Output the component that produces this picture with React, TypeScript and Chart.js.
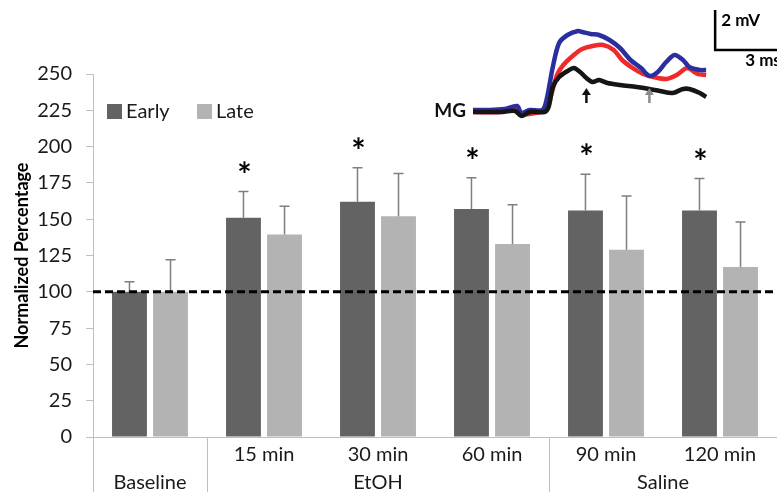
import React, { useEffect, useRef } from "react";
import { Chart, registerables } from "chart.js";
Chart.register(...registerables);

const FONT = "Lato";

// ---- main bar chart data ----
const categories = ["Baseline", "15 min", "30 min", "60 min", "90 min", "120 min"];
const groupNames = ["Baseline", "EtOH", "Saline"];
const groupStarts = [0, 1, 4];
const groupEnds = [0, 3, 5];
const seriesLabels = ["Early", "Late"];
const earlyMean = [100, 151, 162, 157, 156, 156];
const earlyErr = [7, 18, 23.5, 21.5, 25, 22];
const lateMean = [100, 139.5, 152, 133, 129, 117];
const lateErr = [22, 19.5, 29.5, 27, 37, 31];
const earlySignificant = [false, true, true, true, true, true];
const yMin = 0;
const yMax = 250;
const yStep = 25;
const referenceLevel = 100;

// ---- inset traces (time in ms, amplitude in mV) ----
const blueT = [0, 0.8, 1.5, 2.1, 2.3, 2.7, 3.3, 3.5, 3.8, 4.1, 4.5, 5.0, 5.2, 5.6, 6.0, 6.5, 7.0, 7.5, 8.0, 8.4, 8.8, 9.2, 9.6, 10.0, 10.3, 10.8, 11.1];
const blueV = [0.1, 0.1, 0.15, 0.3, -0.05, 0.1, 0.1, 0.6, 2.25, 3.45, 3.85, 4.05, 4.0, 3.9, 3.85, 3.6, 3.2, 2.6, 2.2, 1.8, 2.0, 2.5, 2.85, 2.6, 2.25, 2.1, 2.1];
const redT = [0, 1.3, 2.1, 2.3, 3.2, 3.5, 3.7, 4.0, 4.3, 4.8, 5.2, 5.7, 6.2, 6.7, 7.1, 7.6, 8.1, 8.6, 9.2, 9.7, 10.2, 10.7, 11.1];
const redV = [0, 0, 0.2, -0.1, 0, 0.1, 0.75, 1.85, 2.35, 2.85, 3.15, 3.3, 3.35, 3.1, 2.6, 2.2, 1.9, 1.75, 1.65, 1.85, 2.2, 1.9, 1.85];
const blackT = [0, 1.3, 2.0, 2.3, 2.7, 3.4, 3.6, 3.8, 4.1, 4.5, 4.8, 5.1, 5.4, 5.7, 6.0, 6.4, 7.0, 7.8, 8.4, 8.9, 9.5, 10.0, 10.3, 10.8, 11.1];
const blackV = [0, 0, 0.05, -0.2, 0, 0, 0.25, 1.25, 1.75, 2.05, 2.2, 2.0, 1.7, 1.5, 1.6, 1.45, 1.35, 1.25, 1.15, 1.05, 0.95, 1.15, 1.15, 0.95, 0.75];
const arrowTimes = [5.4, 8.4];
const arrowColors = ["#111111", "#8a8a8a"];
const scaleBarMs = 3;
const scaleBarMv = 2;
const insetLabel = "MG";

const DARK = "#636363";
const LIGHT = "#b3b3b3";
const AXIS = "#bfbfbf";

function pts(t: number[], v: number[]) {
  return t.map((x, i) => ({ x, y: v[i] }));
}

const mainPlugin = {
  id: "mainExtras",
  afterDatasetsDraw(chart: any) {
    const { ctx, scales, chartArea } = chart;
    const y = scales.y;
    const errs = [earlyErr, lateErr];
    const means = [earlyMean, lateMean];
    ctx.save();
    // error bars
    ctx.strokeStyle = "#7f7f7f";
    ctx.lineWidth = 1.5;
    for (let d = 0; d < 2; d++) {
      const meta = chart.getDatasetMeta(d);
      meta.data.forEach((el: any, i: number) => {
        const top = y.getPixelForValue(means[d][i] + errs[d][i]);
        const base = y.getPixelForValue(means[d][i]);
        ctx.beginPath();
        ctx.moveTo(el.x, base);
        ctx.lineTo(el.x, top);
        ctx.moveTo(el.x - 5, top);
        ctx.lineTo(el.x + 5, top);
        ctx.stroke();
      });
    }
    // dashed reference line
    const ry = y.getPixelForValue(referenceLevel);
    ctx.strokeStyle = "#000";
    ctx.lineWidth = 3;
    ctx.setLineDash([8, 4]);
    ctx.beginPath();
    ctx.moveTo(chartArea.left, ry);
    ctx.lineTo(chartArea.right, ry);
    ctx.stroke();
    ctx.setLineDash([]);
    // asterisks
    ctx.fillStyle = "#000";
    ctx.font = `bold 34px ${FONT}`;
    ctx.textAlign = "center";
    ctx.textBaseline = "middle";
    const meta0 = chart.getDatasetMeta(0);
    meta0.data.forEach((el: any, i: number) => {
      if (!earlySignificant[i]) return;
      const top = y.getPixelForValue(earlyMean[i] + earlyErr[i]);
      ctx.fillText("*", el.x + 1, top - 16);
    });
    ctx.restore();
  },
  afterDraw(chart: any) {
    const { ctx, scales, chartArea } = chart;
    const x = scales.x;
    const half = (x.getPixelForValue(1) - x.getPixelForValue(0)) / 2;
    ctx.save();
    // separators below axis
    ctx.strokeStyle = AXIS;
    ctx.lineWidth = 1;
    const sepXs = [chartArea.left];
    for (let g = 0; g < groupEnds.length - 1; g++) sepXs.push(x.getPixelForValue(groupEnds[g]) + half);
    sepXs.forEach((sx) => {
      const px = Math.round(sx) + 0.5;
      ctx.beginPath();
      ctx.moveTo(px, chartArea.bottom);
      ctx.lineTo(px, chart.height);
      ctx.stroke();
    });
    // category labels (row 1) and group labels (row 2)
    ctx.fillStyle = "#1a1a1a";
    ctx.font = `20px ${FONT}`;
    ctx.textAlign = "center";
    ctx.textBaseline = "middle";
    for (let g = 0; g < groupNames.length; g++) {
      const s = groupStarts[g], e = groupEnds[g];
      if (e > s) {
        for (let i = s; i <= e; i++) ctx.fillText(categories[i], x.getPixelForValue(i), chartArea.bottom + 18);
      }
      const cx = (x.getPixelForValue(s) + x.getPixelForValue(e)) / 2;
      ctx.fillText(groupNames[g], cx, chartArea.bottom + 46);
    }
    // legend
    const colors = [DARK, LIGHT];
    const lx = [107, 197];
    ctx.textAlign = "left";
    for (let k = 0; k < 2; k++) {
      ctx.fillStyle = colors[k];
      ctx.fillRect(lx[k], 104, 15, 15);
      ctx.fillStyle = "#1a1a1a";
      ctx.fillText(seriesLabels[k], lx[k] + 19, 112);
    }
    ctx.restore();
  },
};

const insetPlugin = {
  id: "insetExtras",
  afterDraw(chart: any) {
    const { ctx, scales } = chart;
    const x = scales.x, y = scales.y;
    ctx.save();
    // label
    ctx.fillStyle = "#111";
    ctx.font = `bold 19px ${FONT}`;
    ctx.textAlign = "right";
    ctx.textBaseline = "middle";
    ctx.fillText(insetLabel, x.getPixelForValue(0) - 7, y.getPixelForValue(0) - 1);
    // arrows
    arrowTimes.forEach((t, k) => {
      const ax = x.getPixelForValue(t);
      const yb = y.getPixelForValue(0.45);
      const yt = y.getPixelForValue(1.2);
      ctx.strokeStyle = arrowColors[k];
      ctx.fillStyle = arrowColors[k];
      ctx.lineWidth = 2.5;
      ctx.beginPath();
      ctx.moveTo(ax, yb);
      ctx.lineTo(ax, yt + 5);
      ctx.stroke();
      ctx.beginPath();
      ctx.moveTo(ax, yt);
      ctx.lineTo(ax - 4.5, yt + 7);
      ctx.lineTo(ax + 4.5, yt + 7);
      ctx.closePath();
      ctx.fill();
    });
    // scale bar
    const bx = x.getPixelForValue(11.53);
    const by = y.getPixelForValue(3.1);
    const btop = y.getPixelForValue(3.1 + scaleBarMv);
    const bright = x.getPixelForValue(11.53 + scaleBarMs);
    ctx.strokeStyle = "#000";
    ctx.lineWidth = 2.5;
    ctx.beginPath();
    ctx.moveTo(bx, btop);
    ctx.lineTo(bx, by);
    ctx.lineTo(bright, by);
    ctx.stroke();
    ctx.fillStyle = "#000";
    ctx.font = `bold 17px ${FONT}`;
    ctx.textAlign = "left";
    ctx.textBaseline = "middle";
    ctx.fillText(`${scaleBarMv} mV`, bx + 6, btop + 11);
    ctx.fillText(`${scaleBarMs} ms`, bx + 30, by + 11);
    ctx.restore();
  },
};

export default function App() {
  const mainRef = useRef<HTMLCanvasElement | null>(null);
  const insetRef = useRef<HTMLCanvasElement | null>(null);

  useEffect(() => {
    document.body.style.margin = "0";
    const main = new Chart(mainRef.current as HTMLCanvasElement, {
      type: "bar",
      data: {
        labels: categories,
        datasets: [
          { label: seriesLabels[0], data: earlyMean, backgroundColor: DARK, borderWidth: 0, categoryPercentage: 0.72, barPercentage: 0.85 },
          { label: seriesLabels[1], data: lateMean, backgroundColor: LIGHT, borderWidth: 0, categoryPercentage: 0.72, barPercentage: 0.85 },
        ],
      },
      options: {
        animation: false,
        responsive: true,
        maintainAspectRatio: false,
        layout: { padding: { top: 74, right: 0, left: 0, bottom: 0 } },
        plugins: { legend: { display: false }, tooltip: { enabled: false } },
        scales: {
          x: {
            ticks: { display: false },
            grid: { display: false },
            border: { color: AXIS, width: 1 },
            afterFit: (s: any) => { s.height = 55; },
          },
          y: {
            min: yMin,
            max: yMax,
            ticks: { stepSize: yStep, font: { family: FONT, size: 20 }, color: "#1a1a1a", padding: 14 },
            grid: { drawOnChartArea: false, drawTicks: true, tickLength: 7, color: AXIS },
            border: { color: AXIS, width: 1 },
            title: { display: true, text: "Normalized Percentage", color: "#000", font: { family: FONT, size: 18, weight: "bold" }, padding: { top: 11, bottom: 0 } },
            afterFit: (s: any) => { s.width = 93; },
          },
        },
      } as any,
      plugins: [mainPlugin],
    });

    const inset = new Chart(insetRef.current as HTMLCanvasElement, {
      type: "line",
      data: {
        datasets: [
          { label: "black", data: pts(blackT, blackV), borderColor: "#151515", borderWidth: 4.5, pointRadius: 0, tension: 0.3 },
          { label: "blue", data: pts(blueT, blueV), borderColor: "#2b2f9e", borderWidth: 4.5, pointRadius: 0, tension: 0.3 },
          { label: "red", data: pts(redT, redV), borderColor: "#ee2a2a", borderWidth: 4.5, pointRadius: 0, tension: 0.3 },
        ],
      },
      options: {
        animation: false,
        responsive: true,
        maintainAspectRatio: false,
        layout: { padding: 0 },
        plugins: { legend: { display: false }, tooltip: { enabled: false } },
        scales: {
          x: { type: "linear", display: false, min: -2.286, max: 14.476 },
          y: { type: "linear", display: false, min: -0.9, max: 5.6 },
        },
      } as any,
      plugins: [insetPlugin],
    });

    return () => {
      main.destroy();
      inset.destroy();
    };
  }, []);

  return (
    <div style={{ position: "relative", width: 777, height: 492, background: "#fff" }}>
      <div style={{ position: "absolute", left: 0, top: 0, width: 777, height: 492 }}>
        <canvas ref={mainRef} />
      </div>
      <div style={{ position: "absolute", left: 425, top: 0, width: 352, height: 130, pointerEvents: "none" }}>
        <canvas ref={insetRef} />
      </div>
    </div>
  );
}
